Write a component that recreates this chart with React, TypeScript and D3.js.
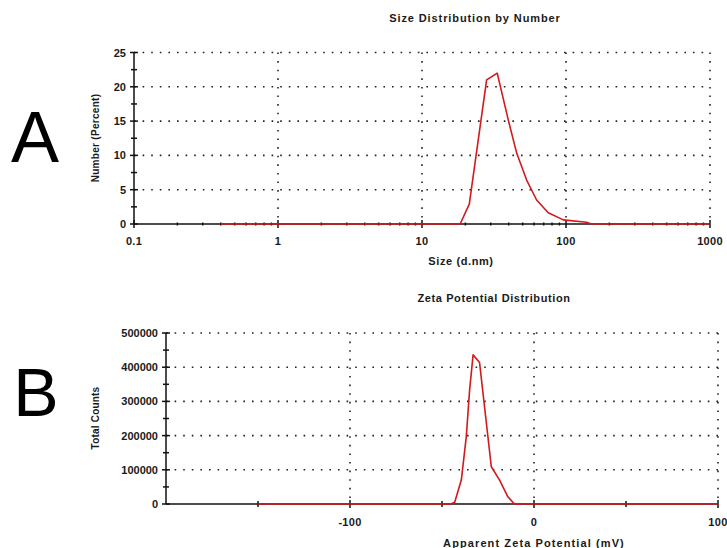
import React, { useEffect, useRef } from 'react'
import * as d3 from 'd3'

// panel A - size distribution by number
const sizeNm = [0.4, 18.4, 21.3, 28.1, 33.3, 39.8, 45.5, 53.3, 62.5, 75.3, 95.8, 139, 150, 1000]
const numberPct = [0, 0, 2.9, 21.0, 22.0, 15.1, 10.3, 6.4, 3.5, 1.65, 0.6, 0.25, 0, 0]
const sizeTicks = [0.1, 1, 10, 100, 1000]
const numberTicks = [0, 5, 10, 15, 20, 25]

// panel B - zeta potential distribution
const zetaMv = [-150, -45.2, -43.1, -39.5, -36.8, -35, -33.1, -29.6, -26.9, -23.2, -18.7, -14.2, -10.6, 100]
const totalCounts = [0, 0, 5000, 70000, 197000, 333000, 436000, 414000, 285000, 109000, 70000, 21000, 0, 0]
const zetaTicks = [-100, 0, 100]
const zetaMinor = [-150, -50, 50]
const countTicks = [0, 100000, 200000, 300000, 400000, 500000]

const FONT = '"Liberation Sans", Arial, sans-serif'
const RED = '#d2191c'

export default function App() {
  const ref = useRef<SVGSVGElement>(null)

  useEffect(() => {
    const svg = d3.select(ref.current)
    svg.selectAll('*').remove()

    const grid = (g: any, x1: number, y1: number, x2: number, y2: number) => {
      g.append('line')
        .attr('x1', x1).attr('y1', y1).attr('x2', x2).attr('y2', y2)
        .attr('stroke', '#222').attr('stroke-width', 1.6)
        .attr('stroke-dasharray', '1.6,7')
    }
    const tick = (g: any, x1: number, y1: number, x2: number, y2: number) => {
      g.append('line')
        .attr('x1', x1).attr('y1', y1).attr('x2', x2).attr('y2', y2)
        .attr('stroke', '#111').attr('stroke-width', 1.5)
    }
    const label = (g: any, x: number, y: number, txt: string, anchor: string, size: number, spacing = 0, rot?: boolean) => {
      const t = g.append('text')
        .attr('x', x).attr('y', y)
        .attr('text-anchor', anchor)
        .attr('font-family', FONT)
        .attr('font-size', size)
        .attr('font-weight', 'bold')
        .attr('letter-spacing', spacing)
        .attr('fill', '#1a1a1a')
        .text(txt)
      if (rot) t.attr('transform', `rotate(-90,${x},${y})`)
      return t
    }

    // ---------- A ----------
    {
      const g = svg.append('g')
      const x = d3.scaleLog().domain([0.1, 1000]).range([134, 710])
      const y = d3.scaleLinear().domain([0, 25]).range([224, 52.5])

      numberTicks.filter(v => v > 0).forEach(v => grid(g, 134, y(v), 710, y(v)))
      sizeTicks.slice(1).forEach(v => grid(g, x(v), 52.5, x(v), 224))

      // axes
      tick(g, 134, 52.5, 134, 224)
      tick(g, 134, 224, 710, 224)
      numberTicks.forEach(v => tick(g, 130, y(v), 138, y(v)))
      numberTicks.slice(1).forEach(v => tick(g, 131, y(v - 2.5), 137, y(v - 2.5)))
      sizeTicks.forEach(v => tick(g, x(v), 220, x(v), 228))
      x.ticks().filter(v => !sizeTicks.includes(v)).forEach(v => tick(g, x(v), 222.5, x(v), 225.5))

      const line = d3.line<number>()
        .x((d, i) => x(sizeNm[i]))
        .y(d => y(d))
      g.append('path')
        .datum(numberPct)
        .attr('d', line)
        .attr('fill', 'none')
        .attr('stroke', RED)
        .attr('stroke-width', 1.6)
        .attr('stroke-linejoin', 'round')

      numberTicks.forEach(v => label(g, 126, y(v) + 4, String(v), 'end', 11))
      sizeTicks.forEach(v => label(g, x(v), 245, String(v), 'middle', 11, 0.3))
      label(g, 475, 22, 'Size Distribution by Number', 'middle', 11, 0.9)
      label(g, 461, 265, 'Size (d.nm)', 'middle', 11, 0.6)
      label(g, 99, 138, 'Number (Percent)', 'middle', 10, 0.3, true)

      g.append('text').attr('x', 35).attr('y', 162)
        .attr('text-anchor', 'middle')
        .attr('font-family', FONT).attr('font-size', 72)
        .attr('fill', '#000').text('A')
    }

    // ---------- B ----------
    {
      const g = svg.append('g')
      const x = d3.scaleLinear().domain([-200, 100]).range([166, 718])
      const y = d3.scaleLinear().domain([0, 500000]).range([504, 333])

      countTicks.filter(v => v > 0).forEach(v => grid(g, 166, y(v), 718, y(v)))
      zetaTicks.forEach(v => grid(g, x(v), 333, x(v), 504))

      tick(g, 166, 333, 166, 504)
      tick(g, 166, 504, 718, 504)
      countTicks.forEach(v => tick(g, 162, y(v), 170, y(v)))
      countTicks.slice(1).forEach(v => tick(g, 163, y(v - 50000), 169, y(v - 50000)))
      zetaTicks.forEach(v => tick(g, x(v), 500, x(v), 508))
      zetaMinor.forEach(v => tick(g, x(v), 501, x(v), 507))

      const line = d3.line<number>()
        .x((d, i) => x(zetaMv[i]))
        .y(d => y(d))
      g.append('path')
        .datum(totalCounts)
        .attr('d', line)
        .attr('fill', 'none')
        .attr('stroke', RED)
        .attr('stroke-width', 1.6)
        .attr('stroke-linejoin', 'round')

      countTicks.forEach(v => label(g, 158, y(v) + 4, String(v), 'end', 11))
      zetaTicks.forEach(v => label(g, x(v), 526, String(v), 'middle', 11, 0.3))
      label(g, 494, 302, 'Zeta Potential Distribution', 'middle', 11, 0.6)
      label(g, 534, 547, 'Apparent Zeta Potential (mV)', 'middle', 11, 1.1)
      label(g, 99, 418, 'Total Counts', 'middle', 10, 0.2, true)

      g.append('text').attr('x', 36).attr('y', 416)
        .attr('text-anchor', 'middle')
        .attr('font-family', FONT).attr('font-size', 68)
        .attr('fill', '#000').text('B')
    }
  }, [])

  return (
    <svg ref={ref} width={727} height={548}
      style={{ position: 'absolute', left: 0, top: 0, background: '#fff' }} />
  )
}
